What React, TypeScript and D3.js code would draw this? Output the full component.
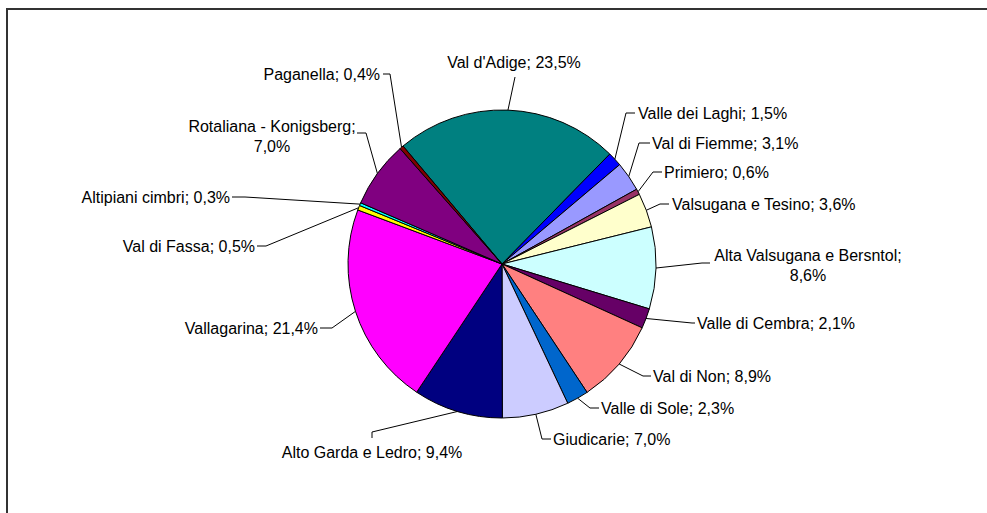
import React from "react";
import * as d3 from "d3";

const categories = [
  "Val d'Adige",
  "Valle dei Laghi",
  "Val di Fiemme",
  "Primiero",
  "Valsugana e Tesino",
  "Alta Valsugana e Bersntol",
  "Valle di Cembra",
  "Val di Non",
  "Valle di Sole",
  "Giudicarie",
  "Alto Garda e Ledro",
  "Vallagarina",
  "Val di Fassa",
  "Altipiani cimbri",
  "Rotaliana - Konigsberg",
  "Paganella",
];
const values = [23.5, 1.5, 3.1, 0.6, 3.6, 8.6, 2.1, 8.9, 2.3, 7.0, 9.4, 21.4, 0.5, 0.3, 7.0, 0.4];
const valueLabels = ["23,5%", "1,5%", "3,1%", "0,6%", "3,6%", "8,6%", "2,1%", "8,9%", "2,3%", "7,0%", "9,4%", "21,4%", "0,5%", "0,3%", "7,0%", "0,4%"];
const colors = [
  "#008080", "#0000FF", "#9999FF", "#993366", "#FFFFCC", "#CCFFFF", "#660066", "#FF8080",
  "#0066CC", "#CCCCFF", "#000080", "#FF00FF", "#FFFF00", "#00FFFF", "#800080", "#800000",
];

// label layout: text position, anchor, leader elbow/attach points
type Lay = { x: number; y: number; anchor: string; twoLine?: boolean; pts: [number, number][] };
const layout: Lay[] = [
  { x: 514, y: 62, anchor: "middle", pts: [[515, 77]] },
  { x: 638, y: 113, anchor: "start", pts: [[626, 113], [635, 113]] },
  { x: 652, y: 143, anchor: "start", pts: [[639, 143], [650, 143]] },
  { x: 664, y: 172, anchor: "start", pts: [[653, 172], [662, 172]] },
  { x: 672, y: 204, anchor: "start", pts: [[660, 204], [669, 204]] },
  { x: 808, y: 255, anchor: "middle", twoLine: true, pts: [[702, 263], [710, 263]] },
  { x: 697, y: 323, anchor: "start", pts: [[692, 323], [695, 323]] },
  { x: 653, y: 376, anchor: "start", pts: [[643, 376], [651, 376]] },
  { x: 601, y: 408, anchor: "start", pts: [[590, 408], [599, 408]] },
  { x: 553, y: 439, anchor: "start", pts: [[542, 439], [551, 439]] },
  { x: 372, y: 452, anchor: "middle", pts: [[372, 432], [372, 438]] },
  { x: 318, y: 328, anchor: "end", pts: [[332, 328], [320, 328]] },
  { x: 255, y: 246, anchor: "end", pts: [[266, 246], [257, 246]] },
  { x: 230, y: 197, anchor: "end", pts: [[245, 197], [232, 197]] },
  { x: 272, y: 126, anchor: "middle", twoLine: true, pts: [[366, 133], [357, 133]] },
  { x: 380, y: 74, anchor: "end", pts: [[390, 74], [383, 74]] },
];

export default function App() {
  const W = 987, H = 513;
  const cx = 502, cy = 264, r = 154;
  const pie = d3
    .pie<number>()
    .sort(null)
    .value((d) => d)
    .startAngle((-40 * Math.PI) / 180)
    .endAngle((320 * Math.PI) / 180);
  const arcs = pie(values);
  const arc = d3.arc<d3.PieArcDatum<number>>().innerRadius(0).outerRadius(r);
  const edge = d3.arc<d3.PieArcDatum<number>>().innerRadius(r).outerRadius(r);
  const font = "'Liberation Sans', Arial, sans-serif";
  const fs = 16;

  return (
    <svg width={W} height={H} style={{ position: "absolute", left: 0, top: 0, background: "#fff" }}>
      <rect x={7} y={9} width={W + 20} height={H + 20} fill="#fff" stroke="#333" strokeWidth={2} />
      <g transform={`translate(${cx},${cy})`}>
        {arcs.map((a, i) => (
          <path key={i} d={arc(a) || ""} fill={colors[i]} stroke="#000" strokeWidth={1} />
        ))}
      </g>
      {arcs.map((a, i) => {
        const [ex, ey] = edge.centroid(a);
        const pts: [number, number][] = [[cx + ex, cy + ey], ...layout[i].pts];
        const line = d3.line()(pts) || "";
        return <path key={"l" + i} d={line} fill="none" stroke="#000" strokeWidth={1} />;
      })}
      {categories.map((c, i) => {
        const L = layout[i];
        if (L.twoLine) {
          return (
            <text key={"t" + i} x={L.x} y={L.y} textAnchor={L.anchor} fontFamily={font} fontSize={fs} fill="#000">
              <tspan x={L.x} dy="0.35em">{c};</tspan>
              <tspan x={L.x} dy="1.3em">{valueLabels[i]}</tspan>
            </text>
          );
        }
        return (
          <text key={"t" + i} x={L.x} y={L.y} dy="0.35em" textAnchor={L.anchor} fontFamily={font} fontSize={fs} fill="#000">
            {c}; {valueLabels[i]}
          </text>
        );
      })}
    </svg>
  );
}
